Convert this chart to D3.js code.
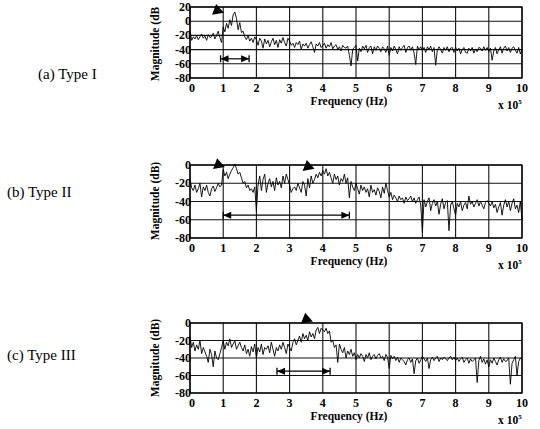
<!DOCTYPE html>
<html lang="en">
<head>
<meta charset="UTF-8">
<title>Spectra of three types</title>
<script src="https://d3js.org/d3.v7.min.js"></script>
<style>
  body { margin: 0; background: #fff; }
  svg { display: block; font-family: "Liberation Serif", "Times New Roman", serif; }
  .tick-label { font-weight: bold; font-size: 12px; }
  .axis-title { font-weight: bold; font-size: 11.5px; }
  .type-label { font-size: 15px; }
</style>
</head>
<body>
<div id="chart"></div>
<script>
// frequency axis in units of 10^5 Hz, one sample every 0.05
const freqStep = 0.05;
const xTicks = [0, 1, 2, 3, 4, 5, 6, 7, 8, 9, 10];
const yTicksA = [20, 0, -20, -40, -60, -80];
const yTicksBC = [0, -20, -40, -60, -80];

// magnitude (dB)
const magA = [
  -12, -27, -22, -25, -20, -26, -22, -18, -24, -21, -27, -19, -23, -22, -17, -25, -20, -14, -23, -30,
  -8, -15, -3, -10, 2, -6, 9, 13, 4, -12, -2, -16, -14, -22, -26, -20, -28, -24, -30, -22,
  -26, -34, -24, -28, -38, -25, -32, -27, -36, -29, -24, -33, -27, -37, -26, -31, -23, -30, -35, -24,
  -28, -34, -31, -37, -30, -33, -28, -40, -32, -35, -31, -38, -33, -29, -36, -44, -32, -35, -30, -37,
  -34, -31, -38, -33, -36, -30, -39, -35, -33, -40, -36, -42, -34, -37, -38, -35, -48, -63, -40, -37,
  -34, -56, -38, -43, -35, -39, -34, -44, -37, -35, -46, -36, -41, -35, -38, -43, -36, -39, -44, -35,
  -48, -37, -42, -35, -40, -46, -36, -41, -37, -34, -44, -37, -35, -41, -36, -45, -61, -35, -40, -36,
  -41, -37, -44, -36, -40, -35, -43, -37, -62, -41, -36, -40, -45, -37, -41, -36, -43, -38, -37, -44,
  -37, -42, -38, -46, -40, -37, -44, -45, -38, -42, -37, -45, -39, -43, -37, -38, -42, -36, -41, -37,
  -43, -38, -55, -42, -37, -46, -40, -36, -45, -38, -35, -42, -37, -44, -38, -36, -41, -45, -37, -46,
  -40
];
const magB = [
  -15, -25, -28, -22, -30, -26, -20, -35, -24, -28, -22, -30, -34, -26, -23, -29, -25, -20, -24, -22,
  -5, -12, -8, -15, -10, -6, -3, 1, -4, -10, -8, -14, -20, -18, -25, -22, -28, -26, -30, -24,
  -50, -22, -12, -28, -16, -10, -30, -20, -15, -24, -18, -28, -14, -22, -18, -25, -12, -20, -10, -16,
  -22, -30, -26, -24, -28, -20, -25, -30, -18, -22, -34, -15, -25, -12, -20, -16, -10, -14, -8, -12,
  -6, -10, -4, -12, -8, -14, -20, -10, -16, -12, -22, -15, -18, -10, -20, -14, -36, -18, -24, -28,
  -20, -26, -32, -22, -28, -24, -30, -26, -35, -22, -30, -27, -33, -25, -29, -36, -24, -31, -20, -28,
  -35, -30, -38, -33, -36, -40, -34, -38, -36, -42, -35, -39, -37, -34, -40, -36, -42, -38, -35, -44,
  -74, -38, -46, -40, -36, -50, -42, -38, -45, -40, -54, -43, -37, -48, -41, -39, -72, -44, -40, -48,
  -55, -42, -46, -40, -50, -44, -41, -48, -34, -43, -40, -46, -42, -38, -45, -40, -44, -48, -41, -39,
  -42, -45, -40, -47, -43, -52, -46, -41, -55, -44, -38, -46, -40, -50, -42, -37, -48, -44, -52, -40,
  -60
];
const magC = [
  -15, -28, -22, -32, -25, -30, -20, -35, -28, -33, -38, -45, -30, -36, -50, -32, -40, -42, -35, -28,
  -20, -30, -22, -26, -18, -28, -24, -20, -30, -26, -22, -28, -32, -25, -35, -30, -38, -27, -33, -24,
  -40, -28, -33, -24, -36, -28, -30, -26, -34, -22, -30, -38, -28, -32, -25, -30, -22, -28, -35, -24,
  -28, -32, -22, -18, -25, -20, -15, -22, -12, -18, -14, -20, -10, -16, -12, -18, -8, -5, -12, -6,
  -8, -10, -6, -12, -9, -22, -20, -28, -25, -45, -24, -30, -34, -28, -40, -32, -36, -30, -38, -34,
  -42, -36, -40, -35, -38, -44, -36, -40, -34, -42, -38, -36, -41, -37, -35, -40, -38, -43, -36, -39,
  -52, -37, -41, -38, -43, -39, -45, -40, -42, -44, -48, -42, -40, -45, -41, -58, -43, -40, -46, -42,
  -38, -41, -44, -40, -52, -42, -39, -43, -40, -38, -44, -40, -42, -39, -41, -43, -40, -38, -42, -39,
  -43, -40, -44, -41, -39, -45, -42, -40, -46, -41, -44, -42, -40, -68, -43, -38, -45, -41, -47, -42,
  -50, -42, -46, -40, -44, -48, -42, -39, -45, -41, -44, -43, -40, -70, -46, -42, -38, -60, -44, -40,
  -42
];

// markers: peak triangles [freq, dB] and band arrows [from, to, dB]
const peaksA = [[0.82, 16]];
const peaksB = [[0.85, 1], [3.55, -1]];
const peaksC = [[3.5, 5]];
const bandA = [0.92, 1.78, -53];
const bandB = [1.0, 4.8, -55];
const bandC = [2.62, 4.22, -55];

const W = 540, H = 429;
const svg = d3.select("#chart").append("svg")
  .attr("width", W).attr("height", H);

const panels = [
  { label: "(a) Type I", lx: 38, ly: 79, top: 7, bottom: 78, yDomain: [-80, 20], yTicks: yTicksA,
    mag: magA, peaks: peaksA, band: bandA, yTitle: "Magnitude (dB", titleY: 44 },
  { label: "(b) Type II", lx: 7, ly: 197, top: 165, bottom: 238, yDomain: [-80, 0], yTicks: yTicksBC,
    mag: magB, peaks: peaksB, band: bandB, yTitle: "Magnitude (dB)", titleY: 201 },
  { label: "(c) Type III", lx: 7, ly: 360, top: 323, bottom: 393, yDomain: [-80, 0], yTicks: yTicksBC,
    mag: magC, peaks: peaksC, band: bandC, yTitle: "Magnitude (dB)", titleY: 358 }
];

const left = 190, right = 522;

panels.forEach(p => {
  const g = svg.append("g");

  const x = d3.scaleLinear().domain([0, 10]).range([left, right]);
  const y = d3.scaleLinear().domain(p.yDomain).range([p.bottom, p.top]);

  // grid
  g.selectAll(".vgrid").data(xTicks).enter().append("line")
    .attr("x1", d => x(d)).attr("x2", d => x(d))
    .attr("y1", p.top).attr("y2", p.bottom)
    .attr("stroke", "#111").attr("stroke-width", 1.1);
  g.selectAll(".hgrid").data(p.yTicks).enter().append("line")
    .attr("x1", left).attr("x2", right)
    .attr("y1", d => y(d)).attr("y2", d => y(d))
    .attr("stroke", "#111").attr("stroke-width", 1.1);
  g.append("rect")
    .attr("x", left).attr("y", p.top)
    .attr("width", right - left).attr("height", p.bottom - p.top)
    .attr("fill", "none").attr("stroke", "#000").attr("stroke-width", 1.3);

  // trace
  const line = d3.line()
    .x((d, i) => x(i * freqStep))
    .y(d => y(d));
  g.append("path")
    .datum(p.mag)
    .attr("d", line)
    .attr("fill", "none").attr("stroke", "#000").attr("stroke-width", 0.9);

  // tick labels
  g.selectAll(".xl").data(xTicks).enter().append("text")
    .attr("class", "tick-label")
    .attr("x", d => x(d) + (d === 0 ? 2 : 0)).attr("y", p.bottom + 14)
    .attr("text-anchor", "middle")
    .text(d => d);
  g.selectAll(".yl").data(p.yTicks).enter().append("text")
    .attr("class", "tick-label")
    .attr("x", left + 1).attr("y", d => y(d) + 4)
    .attr("text-anchor", "end")
    .text(d => d);

  // axis titles
  g.append("text").attr("class", "axis-title")
    .attr("x", 349).attr("y", p.bottom + 27)
    .attr("text-anchor", "middle")
    .text("Frequency (Hz)");
  const mult = g.append("text").attr("class", "axis-title")
    .attr("x", 498).attr("y", p.bottom + 31);
  mult.append("tspan").text("x 10");
  mult.append("tspan").attr("dy", -5).attr("font-size", "7px").text("5");
  g.append("text").attr("class", "axis-title")
    .attr("transform", `translate(159,${p.titleY}) rotate(-90)`)
    .attr("text-anchor", "middle")
    .text(p.yTitle);

  // panel label
  g.append("text").attr("class", "type-label")
    .attr("x", p.lx).attr("y", p.ly)
    .text(p.label);

  // peak markers
  g.selectAll(".peak").data(p.peaks).enter().append("path")
    .attr("d", "M-6,4 L6,4 L0,-6 Z")
    .attr("transform", d => `translate(${x(d[0])},${y(d[1])}) rotate(-10)`)
    .attr("fill", "#000");

  // band arrow
  const [b0, b1, bv] = p.band;
  const ax0 = x(b0), ax1 = x(b1), ay = y(bv);
  g.append("line")
    .attr("x1", ax0).attr("x2", ax1).attr("y1", ay).attr("y2", ay)
    .attr("stroke", "#000").attr("stroke-width", 1.2);
  g.append("path")
    .attr("d", `M${ax0},${ay} l8,-3.5 l0,7 Z M${ax1},${ay} l-8,-3.5 l0,7 Z`)
    .attr("fill", "#000");
  g.append("path")
    .attr("d", `M${ax0},${ay - 3.5} v7 M${ax1},${ay - 3.5} v7`)
    .attr("stroke", "#000").attr("stroke-width", 1.3);
});
</script>
</body>
</html>
